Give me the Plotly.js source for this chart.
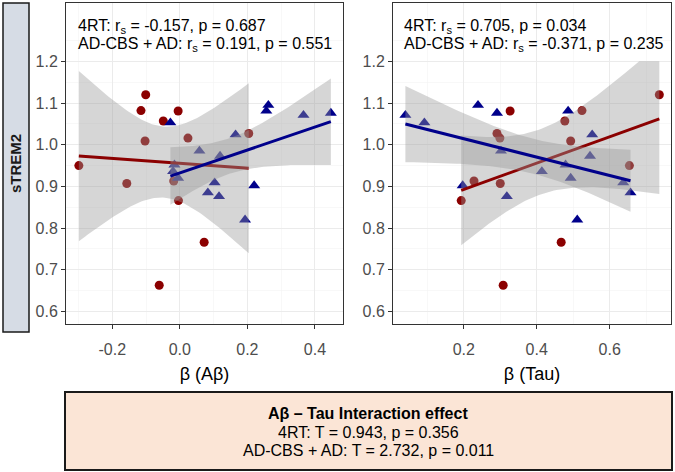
<!DOCTYPE html>
<html>
<head>
<meta charset="utf-8">
<script src="https://cdn.plot.ly/plotly-3.0.1.min.js"></script>
<style>
  body { margin: 0; background: #fff; }
  #chart { width: 675px; height: 472px; }
</style>
</head>
<body>
<div id="chart"></div>
<script>
// red circles: sTREM2 with beta(Abeta) and beta(Tau) of the same subjects
var redTREM  = [1.120, 1.082, 1.081, 1.057, 1.027, 1.016, 1.009, 0.950, 0.913, 0.907, 0.866, 0.766, 0.663];
var redAbeta = [-0.101, -0.115, -0.005, -0.049, 0.204, 0.024, -0.103, -0.299, -0.018, -0.157, -0.004, 0.072, -0.061];
var redTau   = [0.736, 0.524, 0.327, 0.477, 0.291, 0.299, 0.493, 0.654, 0.228, 0.300, 0.193, 0.467, 0.308];

// blue triangles
var blueTREM  = [1.095, 1.081, 1.076, 1.071, 1.053, 1.024, 0.985, 0.973, 0.952, 0.936, 0.920, 0.909, 0.902, 0.885, 0.876, 0.820];
var blueAbeta = [0.262, 0.256, 0.447, 0.366, -0.028, 0.165, 0.058, 0.119, -0.016, -0.020, -0.005, 0.103, 0.220, 0.083, 0.116, 0.193];
var blueTau   = [0.239, 0.486, 0.291, 0.040, 0.092, 0.552, 0.302, 0.546, 0.479, 0.414, 0.493, 0.637, 0.197, 0.657, 0.318, 0.511];

var abetaTicks = [-0.2, 0, 0.2, 0.4];
var abetaLabels = ["-0.2", "0.0", "0.2", "0.4"];
var tauTicks = [0.2, 0.4, 0.6];
var tauLabels = ["0.2", "0.4", "0.6"];
var tremTicks = [0.6, 0.7, 0.8, 0.9, 1.0, 1.1, 1.2];
var tremLabels = ["0.6", "0.7", "0.8", "0.9", "1.0", "1.1", "1.2"];

var statsAbeta = ["4RT: r<sub>s</sub> = -0.157, p = 0.687", "AD-CBS + AD: r<sub>s</sub> = 0.191, p = 0.551"];
var statsTau = ["4RT: r<sub>s</sub> = 0.705, p = 0.034", "AD-CBS + AD: r<sub>s</sub> = -0.371, p = 0.235"];
var interaction = ["<b>Aβ – Tau Interaction effect</b>", "4RT: T = 0.943, p = 0.356", "AD-CBS + AD: T = 2.732, p = 0.011"];

// two-sided 95% t quantiles by degrees of freedom
var tCrit = { 11: 2.201, 14: 2.145 };
// the confidence band is squished at the top of the y scale
var bandCap = 1.2;

var RED = "#8b0000";
var BLUE = "#00008b";
var FONT = "Liberation Sans, Arial, sans-serif";

// linear fit with 95% confidence band, like geom_smooth(method = "lm")
function lmBand(x, y) {
  var n = x.length;
  var mx = 0, my = 0;
  for (var i = 0; i < n; i++) { mx += x[i]; my += y[i]; }
  mx /= n; my /= n;
  var sxx = 0, sxy = 0;
  for (i = 0; i < n; i++) {
    sxx += (x[i] - mx) * (x[i] - mx);
    sxy += (x[i] - mx) * (y[i] - my);
  }
  var b1 = sxy / sxx, b0 = my - b1 * mx;
  var sse = 0;
  for (i = 0; i < n; i++) {
    var r = y[i] - (b0 + b1 * x[i]);
    sse += r * r;
  }
  var s = Math.sqrt(sse / (n - 2));
  var t = tCrit[n - 2];
  var lo = Math.min.apply(null, x), hi = Math.max.apply(null, x);
  var xs = [], fit = [], up = [], dn = [];
  for (i = 0; i < 80; i++) {
    var xv = lo + (hi - lo) * i / 79;
    var f = b0 + b1 * xv;
    var se = s * Math.sqrt(1 / n + (xv - mx) * (xv - mx) / sxx);
    xs.push(xv); fit.push(f);
    up.push(Math.min(f + t * se, bandCap));
    dn.push(f - t * se);
  }
  return { xs: xs, fit: fit, up: up, dn: dn };
}

function pointTrace(x, y, color, symbol, size, xa, ya) {
  return {
    x: x, y: y, xaxis: xa, yaxis: ya, type: "scatter", mode: "markers",
    marker: { color: color, symbol: symbol, size: size, line: { width: 0 } },
    hoverinfo: "skip"
  };
}

function smoothTraces(x, y, color, xa, ya) {
  var b = lmBand(x, y);
  return [
    {
      x: b.xs.concat(b.xs.slice().reverse()),
      y: b.up.concat(b.dn.slice().reverse()),
      xaxis: xa, yaxis: ya, type: "scatter", mode: "lines",
      fill: "toself", fillcolor: "rgba(153,153,153,0.4)",
      line: { width: 0 }, hoverinfo: "skip"
    },
    {
      x: b.xs, y: b.fit, xaxis: xa, yaxis: ya, type: "scatter", mode: "lines",
      line: { color: color, width: 3 }, hoverinfo: "skip"
    }
  ];
}

var traces = [
  pointTrace(redAbeta, redTREM, RED, "circle", 9, "x", "y"),
  pointTrace(blueAbeta, blueTREM, BLUE, "triangle-up", 10.5, "x", "y")
]
  .concat(smoothTraces(redAbeta, redTREM, RED, "x", "y"))
  .concat(smoothTraces(blueAbeta, blueTREM, BLUE, "x", "y"))
  .concat([
    pointTrace(redTau, redTREM, RED, "circle", 9, "x2", "y2"),
    pointTrace(blueTau, blueTREM, BLUE, "triangle-up", 10.5, "x2", "y2")
  ])
  .concat(smoothTraces(redTau, redTREM, RED, "x2", "y2"))
  .concat(smoothTraces(blueTau, blueTREM, BLUE, "x2", "y2"));

function axisStyle(extra) {
  var a = {
    showline: true, mirror: true, linecolor: "#333333", linewidth: 1,
    ticks: "outside", ticklen: 4, tickcolor: "#333333", tickwidth: 1,
    tickfont: { size: 16, color: "#4d4d4d" },
    showgrid: true, gridcolor: "#ebebeb", gridwidth: 1,
    zeroline: false, fixedrange: true, tickmode: "array"
  };
  for (var k in extra) a[k] = extra[k];
  return a;
}

var W = 675, H = 472;
function px(v) { return v / W; }
function py(v) { return 1 - v / H; }

var annotations = [];
function addText(text, x, y, opts) {
  var a = {
    text: text, xref: "paper", yref: "paper", x: px(x), y: py(y),
    xanchor: "left", yanchor: "middle", showarrow: false,
    font: { size: 16, color: "#000000" }
  };
  for (var k in opts) a[k] = opts[k];
  annotations.push(a);
}
addText(statsAbeta[0], 76, 27);
addText(statsAbeta[1], 76, 45);
addText(statsTau[0], 402, 27);
addText(statsTau[1], 402, 45);
addText("<b>sTREM2</b>", 16, 164, { xanchor: "center", textangle: -90, font: { size: 15, color: "#1a1a1a" } });
addText(interaction[0], 368, 413, { xanchor: "center" });
addText(interaction[1], 368, 432, { xanchor: "center" });
addText(interaction[2], 368, 450, { xanchor: "center" });

var layout = {
  width: W, height: H,
  margin: { l: 0, r: 0, t: 0, b: 0 },
  paper_bgcolor: "#ffffff", plot_bgcolor: "#ffffff",
  font: { family: FONT },
  showlegend: false,
  xaxis: axisStyle({
    domain: [px(66), px(343)], range: [-0.337, 0.483], anchor: "y",
    tickvals: abetaTicks, ticktext: abetaLabels, ticklabelstandoff: 7,
    minor: { tickmode: "linear", tick0: -0.3, dtick: 0.2, showgrid: true, gridcolor: "#f3f3f3", gridwidth: 0.6, ticks: "" },
    title: { text: "β (Aβ)", font: { size: 18, color: "#000000" }, standoff: 10 }
  }),
  yaxis: axisStyle({
    domain: [py(324), py(3)], range: [0.570, 1.340], anchor: "x",
    tickvals: tremTicks, ticktext: tremLabels,
    minor: { tickmode: "linear", tick0: 0.55, dtick: 0.1, showgrid: true, gridcolor: "#f3f3f3", gridwidth: 0.6, ticks: "" }
  }),
  xaxis2: axisStyle({
    domain: [px(393), px(671)], range: [0.006, 0.768], anchor: "y2",
    tickvals: tauTicks, ticktext: tauLabels, ticklabelstandoff: 7,
    minor: { tickmode: "linear", tick0: 0.1, dtick: 0.2, showgrid: true, gridcolor: "#f3f3f3", gridwidth: 0.6, ticks: "" },
    title: { text: "β (Tau)", font: { size: 18, color: "#000000" }, standoff: 10 }
  }),
  yaxis2: axisStyle({
    domain: [py(324), py(3)], range: [0.570, 1.340], anchor: "x2",
    tickvals: tremTicks, ticktext: tremLabels,
    minor: { tickmode: "linear", tick0: 0.55, dtick: 0.1, showgrid: true, gridcolor: "#f3f3f3", gridwidth: 0.6, ticks: "" }
  }),
  shapes: [
    {
      type: "rect", xref: "paper", yref: "paper", layer: "below",
      x0: px(3), x1: px(29), y0: py(332), y1: py(3),
      fillcolor: "#d6dce5", line: { color: "#1a1a1a", width: 1.5 }
    },
    {
      type: "rect", xref: "paper", yref: "paper", layer: "below",
      x0: px(65), x1: px(672), y0: py(470), y1: py(392),
      fillcolor: "#fbe5d6", line: { color: "#1a1a1a", width: 2 }
    }
  ],
  annotations: annotations
};

Plotly.newPlot("chart", traces, layout, { displayModeBar: false, staticPlot: true });
</script>
</body>
</html>
